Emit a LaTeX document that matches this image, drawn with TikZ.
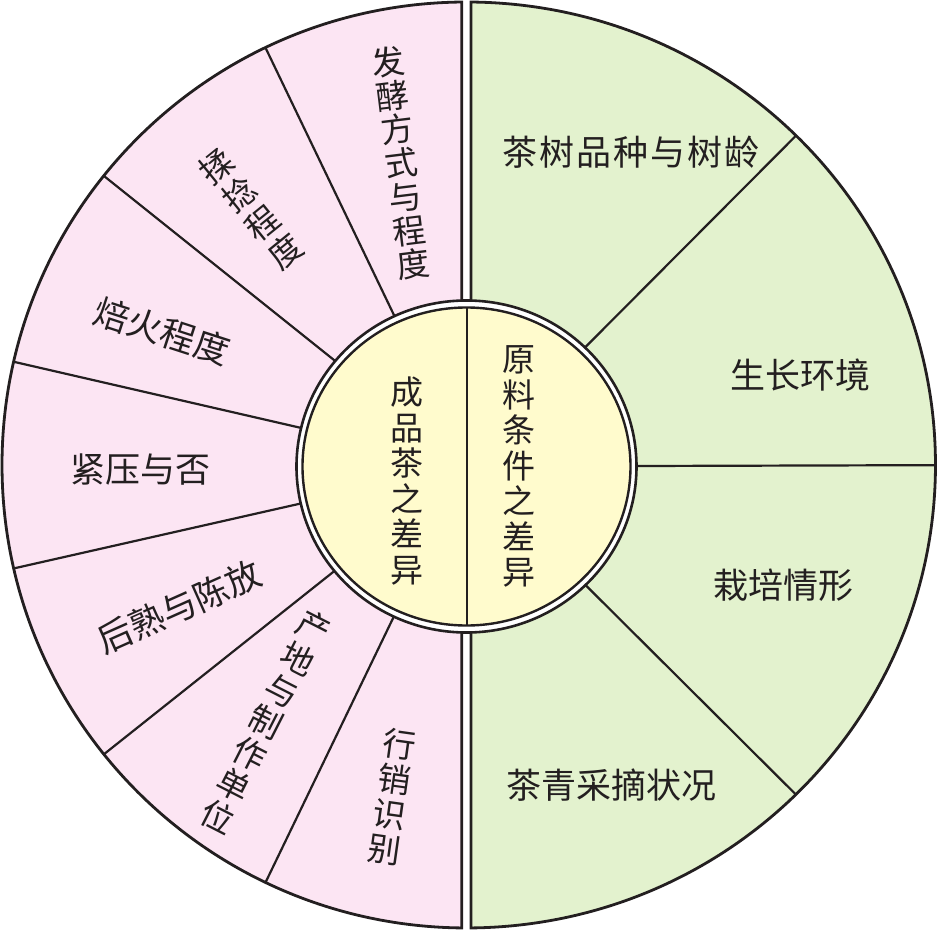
\documentclass[tikz,border=0pt]{standalone}
\usepackage{fontspec}
\setmainfont{Noto Sans CJK SC}
\definecolor{pinkc}{RGB}{252,229,243}
\definecolor{greenc}{RGB}{227,242,206}
\definecolor{yellowc}{RGB}{255,251,205}
\definecolor{inkc}{RGB}{35,31,32}
\begin{document}
\begin{tikzpicture}[x=1pt,y=1pt,
  lab/.style={font=\fontsize{33}{35.5}\selectfont, align=center, inner sep=0pt, text=inkc},
  hlab/.style={font=\fontsize{35}{36}\selectfont, inner sep=0pt, text=inkc},
  rim/.style={line width=2.8pt, draw=inkc},
  spoke/.style={line width=2.2pt, draw=inkc}]
\useasboundingbox (-466.5,-464) rectangle (472.5,465);
% left half (pink)
\fill[pinkc] (-4.7,462.98) arc[start angle=90.58, end angle=269.42, x radius=464.5, y radius=463] -- cycle;
\begin{scope}
  \clip (-4.7,462.98) arc[start angle=90.58, end angle=269.42, x radius=464.5, y radius=463] -- cycle;
  \foreach \a in {115.714,141.429,167.143,192.857,218.571,244.286}
    \draw[spoke] (0,-1) -- (\a:520);
\end{scope}
\draw[rim] (-4.7,462.98) arc[start angle=90.58, end angle=269.42, x radius=464.5, y radius=463] -- cycle;
% right half (green)
\fill[greenc] (4.5,462.98) arc[start angle=89.45, end angle=-89.45, x radius=469, y radius=463] -- cycle;
\begin{scope}
  \clip (4.5,462.98) arc[start angle=89.45, end angle=-89.45, x radius=469, y radius=463] -- cycle;
  \foreach \a in {45,0,-45}
    \draw[spoke] (0,-1.5) -- (\a:520);
\end{scope}
\draw[rim] (4.5,462.98) arc[start angle=89.45, end angle=-89.45, x radius=469, y radius=463] -- cycle;
% centre ring
\draw[line width=2.6pt, draw=inkc, fill=white] (0,-1.5) ellipse [x radius=170, y radius=166];
\draw[line width=2.4pt, draw=inkc, fill=yellowc] (0,-1.5) ellipse [x radius=164, y radius=159];
\coordinate (ctop) at (0.5,157.5);
\coordinate (cbot) at (0.5,-160.5);
\draw[line width=2pt, draw=inkc] (ctop) -- (cbot);
% centre labels
\node[lab] (c1) at (-59.5,-16) {成\\品\\茶\\之\\差\\异};
\node[lab] (c2) at (52.5,-1.5) {原\\料\\条\\件\\之\\差\\异};
% left labels
\node[lab, font=\fontsize{33}{34}\selectfont, rotate=7] (l1) at (-65.5,302) {发\\酵\\方\\式\\与\\程\\度};
\node[lab, font=\fontsize{33}{36.5}\selectfont, rotate=39] (l2) at (-215.5,256) {揉\\捻\\程\\度};
\node[hlab, rotate=-18] (l3) at (-304.5,134) {焙火程度};
\node[hlab] (l4) at (-325.5,-5) {紧压与否};
\node[hlab, rotate=24] (l5) at (-287.5,-142) {后熟与陈放};
\node[lab, rotate=-27] (l6) at (-200.5,-257) {产\\地\\与\\制\\作\\单\\位};
\node[lab, rotate=-8] (l7) at (-74.5,-332) {行\\销\\识\\别};
% right labels
\node[hlab] (r1) at (164.5,313) {茶\kern2pt 树\kern2pt 品\kern2pt 种\kern2pt 与\kern2pt 树\kern2pt 龄};
\node[hlab] (r2) at (333.5,90) {生长环境};
\node[hlab] (r3) at (316.5,-120) {栽培情形};
\node[hlab] (r4) at (144.5,-320) {茶青采摘状况};
\end{tikzpicture}
\end{document}
